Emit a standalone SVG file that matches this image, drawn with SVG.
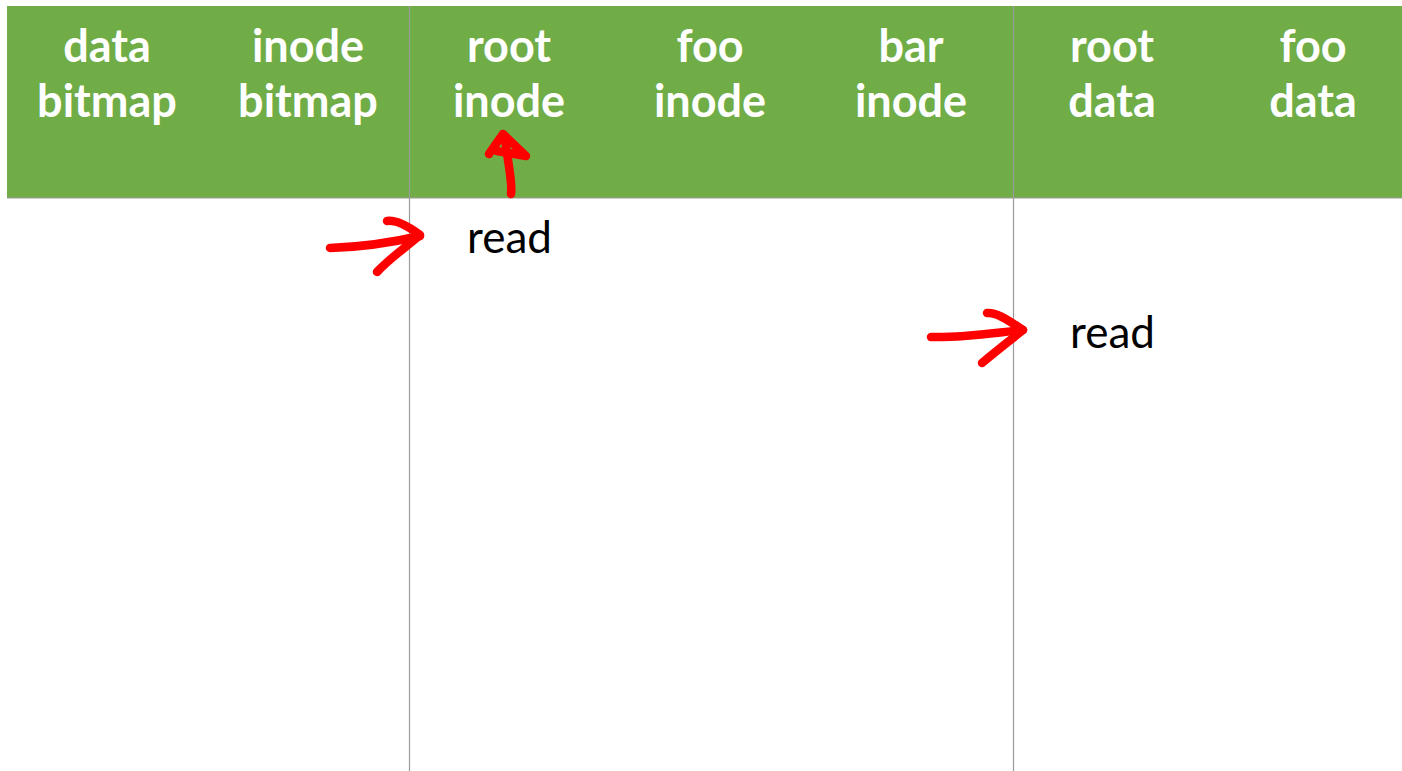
<svg xmlns="http://www.w3.org/2000/svg" width="1402" height="771" viewBox="0 0 1402 771">
  <style>
    .hdr { font-family: Lato, "Open Sans", "Liberation Sans", sans-serif; font-weight: bold; font-size: 45px; fill: #ffffff; text-anchor: middle; }
    .lbl { font-family: Lato, "Open Sans", "Liberation Sans", sans-serif; font-size: 44px; fill: #000000; text-anchor: middle; }
    .rule { stroke: #9a9a9a; stroke-width: 1.2; fill: none; }
    .ink { stroke: #ff0000; stroke-width: 8.5; fill: none; stroke-linecap: round; stroke-linejoin: round; }
  </style>
  <rect width="1402" height="771" fill="#ffffff"/>

  <!-- header band -->
  <rect id="header" x="7" y="6" width="1395" height="192" fill="#70ad47"/>

  <!-- grid lines -->
  <g id="grid">
    <line class="rule" x1="7" y1="198" x2="1402" y2="198"/>
    <line class="rule" x1="409.5" y1="6" x2="409.5" y2="771"/>
    <line class="rule" x1="1013.5" y1="6" x2="1013.5" y2="771"/>
  </g>

  <!-- block columns -->
  <g id="data-bitmap"><text class="hdr" x="107" y="62">data</text><text class="hdr" x="107" y="117">bitmap</text></g>
  <g id="inode-bitmap"><text class="hdr" x="308" y="62">inode</text><text class="hdr" x="308" y="117">bitmap</text></g>
  <g id="root-inode"><text class="hdr" x="509" y="62">root</text><text class="hdr" x="509" y="117">inode</text></g>
  <g id="foo-inode"><text class="hdr" x="710" y="62">foo</text><text class="hdr" x="710" y="117">inode</text></g>
  <g id="bar-inode"><text class="hdr" x="911" y="62">bar</text><text class="hdr" x="911" y="117">inode</text></g>
  <g id="root-data"><text class="hdr" x="1112" y="62">root</text><text class="hdr" x="1112" y="117">data</text></g>
  <g id="foo-data"><text class="hdr" x="1313" y="62">foo</text><text class="hdr" x="1313" y="117">data</text></g>

  <!-- operations -->
  <g id="read-root-inode"><text class="lbl" x="509.5" y="253">read</text></g>
  <g id="read-root-data"><text class="lbl" x="1112.5" y="348">read</text></g>

  <!-- hand-drawn arrows -->
  <g id="connectors">
    <path class="ink" d="M330,248 C360,247 390,243 420,236"/>
    <path class="ink" d="M387,221 C395,220 405,224 420,235 C405,248 390,258 377,272"/>
    <path class="ink" d="M511,194 C513,182 507,160 505,137"/>
    <path class="ink" d="M489,154 L503,134 L526,156 L497,151"/>
    <path class="ink" d="M931,337 C960,338 985,334 1023,330"/>
    <path class="ink" d="M987,313 C995,312 1005,318 1023,330 C1008,342 995,352 982,363"/>
  </g>
</svg>
